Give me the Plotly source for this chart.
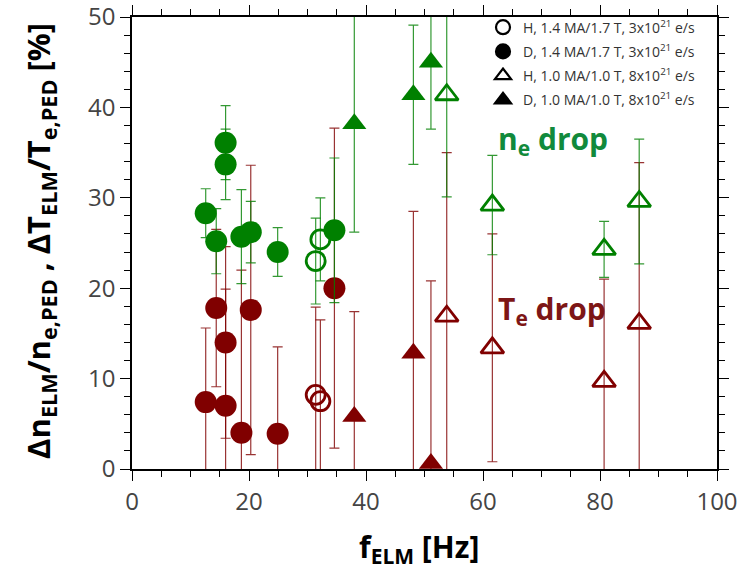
import plotly.graph_objects as go

# ---- data ----
f_D14 = [12.6, 14.4, 16.0, 16.0, 18.7, 20.3, 24.9, 34.6]
ne_D14 = [28.3, 25.2, 36.1, 33.7, 25.7, 26.2, 24.0, 26.4]
ne_D14_err = [2.7, 3.6, 4.1, 3.9, 5.2, 3.4, 2.7, 8.0]
te_D14 = [7.4, 17.8, 14.0, 7.0, 4.0, 17.6, 3.9, 20.0]
te_D14_err = [8.2, 8.7, 10.6, 12.9, 18.0, 16.0, 9.6, 17.7]

f_H14 = [31.4, 32.2]
ne_H14 = [23.0, 25.4]
ne_H14_err = [4.75, 4.6]
te_H14 = [8.2, 7.5]
te_H14_err = [9.7, 9.0]

f_D10 = [38.0, 48.1, 51.1]
ne_D10 = [38.2, 41.4, 45.0]
ne_D10_err = [12.0, 7.7, 7.4]
te_D10 = [5.8, 12.8, 0.6]
te_D10_err = [11.6, 15.7, 20.2]

f_H10 = [53.8, 61.6, 80.7, 86.7]
ne_H10 = [41.4, 29.2, 24.3, 29.6]
ne_H10_err = [11.3, 5.5, 3.1, 6.9]
te_H10 = [16.9, 13.4, 9.7, 16.1]
te_H10_err = [18.1, 12.6, 11.3, 17.8]

legend_labels = [
    "H, 1.4 MA/1.7 T, 3x10<sup>21</sup> e/s",
    "D, 1.4 MA/1.7 T, 3x10<sup>21</sup> e/s",
    "H, 1.0 MA/1.0 T, 8x10<sup>21</sup> e/s",
    "D, 1.0 MA/1.0 T, 8x10<sup>21</sup> e/s",
]

GREEN = "#008000"
RED = "#800000"
GREEN_ERR = "rgba(0,128,0,0.8)"
RED_ERR = "rgba(128,0,0,0.8)"

fig = go.Figure()

def add(x, y, err, color, errcolor, symbol, size, open_):
    marker = dict(symbol=symbol, size=size, color=color)
    if open_:
        marker = dict(symbol=symbol + "-open", size=size, color=color,
                      line=dict(width=2.8, color=color))
    fig.add_trace(go.Scatter(
        x=x, y=y, mode="markers", marker=marker, showlegend=False,
        error_y=dict(type="data", array=err, visible=True, color=errcolor,
                     thickness=1.2, width=5),
    ))

# Te drop (red)
add(f_D14, te_D14, te_D14_err, RED, RED_ERR, "circle", 22, False)
add(f_H14, te_H14, te_H14_err, RED, RED_ERR, "circle", 19, True)
add(f_D10, te_D10, te_D10_err, RED, RED_ERR, "triangle-up", 21, False)
add(f_H10, te_H10, te_H10_err, RED, RED_ERR, "triangle-up", 20, True)
# ne drop (green)
add(f_D14, ne_D14, ne_D14_err, GREEN, GREEN_ERR, "circle", 22, False)
add(f_H14, ne_H14, ne_H14_err, GREEN, GREEN_ERR, "circle", 19, True)
add(f_D10, ne_D10, ne_D10_err, GREEN, GREEN_ERR, "triangle-up", 21, False)
add(f_H10, ne_H10, ne_H10_err, GREEN, GREEN_ERR, "triangle-up", 20, True)

# legend entries (black symbols)
leg_symbols = ["circle-open", "circle", "triangle-up-open", "triangle-up"]
for i, (lab, sym) in enumerate(zip(legend_labels, leg_symbols)):
    fig.add_trace(go.Scatter(
        x=[None], y=[None], mode="markers", name=lab, legendgroup=f"g{i}",
        marker=dict(symbol=sym, size=14, color="black",
                    line=dict(width=2.2, color="black")),
    ))

fig.add_annotation(x=62.3, y=36.4, xref="x", yref="y", xanchor="left",
                   text="<b>n<sub>e</sub> drop</b>", showarrow=False,
                   font=dict(family="Open Sans", size=30, color="#118a3c"))
fig.add_annotation(x=62.2, y=17.6, xref="x", yref="y", xanchor="left",
                   text="<b>T<sub>e</sub> drop</b>", showarrow=False,
                   font=dict(family="Open Sans", size=30, color="#7d1616"))

# axis titles
fig.add_annotation(x=-0.157, y=0.505, xref="paper", yref="paper",
                   xanchor="center", yanchor="middle", textangle=-90,
                   text="<b>Δn<sub>ELM</sub>/n<sub>e,PED</sub> , ΔT<sub>ELM</sub>/T<sub>e,PED</sub> [%]</b>",
                   showarrow=False,
                   font=dict(family="Open Sans", size=31, color="black"))
fig.add_annotation(x=0.49, y=-0.175, xref="paper", yref="paper",
                   xanchor="center", yanchor="middle",
                   text="<b>f<sub>ELM</sub> [Hz]</b>", showarrow=False,
                   font=dict(family="Open Sans", size=30, color="black"))

axis_common = dict(
    showline=True, linecolor="black", linewidth=1.5, mirror="ticks",
    ticks="outside", tickcolor="black", tickwidth=1.2, ticklen=10,
    showgrid=False, zeroline=False, automargin=False,
    ticklabeloverflow="allow",
    tickfont=dict(family="Open Sans", size=24, color="#444"),
)

fig.update_xaxes(
    range=[0, 100], dtick=20, tick0=0,
    minor=dict(dtick=5, ticks="outside", ticklen=6, tickcolor="black", tickwidth=1),
    **axis_common,
)
fig.update_yaxes(
    range=[0, 50], dtick=10, tick0=0,
    minor=dict(dtick=2, ticks="outside", ticklen=6, tickcolor="black", tickwidth=1),
    **axis_common,
)

fig.update_layout(
    width=745, height=583,
    margin=dict(l=132, r=28, t=17, b=114),
    plot_bgcolor="white", paper_bgcolor="white",
    legend=dict(x=0.6, y=1.012, xanchor="left", yanchor="top",
                bgcolor="rgba(0,0,0,0)", borderwidth=0,
                font=dict(family="Open Sans", size=14, color="#333"),
                tracegroupgap=3),
)

fig.write_html("out.html", config={"displayModeBar": False},
               post_script="document.body.style.margin='0';")
